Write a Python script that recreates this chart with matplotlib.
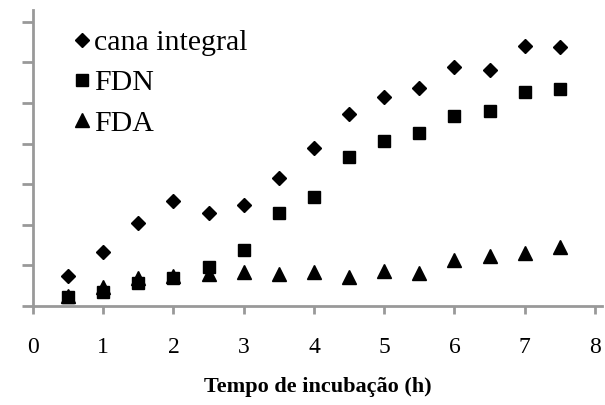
import matplotlib.pyplot as plt

# incubation time (h)
tempo = [0.5, 1.0, 1.5, 2.0, 2.5, 3.0, 3.5, 4.0, 4.5, 5.0, 5.5, 6.0, 6.5, 7.0, 7.5]

# values (axis has no numeric labels, one tick = 1 unit)
cana_integral = [0.75, 1.33, 2.05, 2.58, 2.28, 2.50, 3.15, 3.89, 4.72, 5.15, 5.36, 5.89, 5.81, 6.40, 6.37]
fdn = [0.22, 0.34, 0.57, 0.69, 0.96, 1.38, 2.29, 2.68, 3.67, 4.06, 4.26, 4.68, 4.80, 5.27, 5.34]
fda = [0.24, 0.47, 0.69, 0.74, 0.78, 0.84, 0.79, 0.84, 0.71, 0.86, 0.81, 1.13, 1.23, 1.31, 1.45]

x_ticks = [0, 1, 2, 3, 4, 5, 6, 7, 8]
y_ticks = [0, 1, 2, 3, 4, 5, 6, 7]

plt.rcParams['font.family'] = 'Liberation Serif'

fig = plt.figure(figsize=(6.05, 4.05), dpi=100)
ax = fig.add_axes([0.0545, 0.2444, 0.9405, 0.7309])

ax.plot(tempo, fda, '^', color='black', markersize=10, label='FDA', zorder=3)
ax.plot(tempo, fdn, 's', color='black', markersize=9, label='FDN', zorder=4)
ax.plot(tempo, cana_integral, 'D', color='black', markersize=7.5, label='cana integral', zorder=5)

ax.set_xlim(0, 8.1)
ax.set_ylim(0, 7.29)
ax.set_xticks(x_ticks)
ax.set_yticks(y_ticks)
ax.set_yticklabels([])
ax.tick_params(axis='x', labelsize=17, length=6, width=2, color='#999999', pad=16)
ax.tick_params(axis='y', length=8, width=2, color='#999999')

for side in ['top', 'right']:
    ax.spines[side].set_visible(False)
for side in ['left', 'bottom']:
    ax.spines[side].set_color('#999999')
    ax.spines[side].set_linewidth(2)

ax.set_xlabel('Tempo de incubação (h)', fontsize=16, fontweight='bold', labelpad=14)

handles, labels = ax.get_legend_handles_labels()
ax.legend(handles[::-1], labels[::-1], loc='upper left', bbox_to_anchor=(0.05, 0.976),
          frameon=False, fontsize=21.5, handlelength=0.6, handletextpad=0.1,
          labelspacing=0.45, borderaxespad=0)

fig.savefig('out.png', dpi=100)
